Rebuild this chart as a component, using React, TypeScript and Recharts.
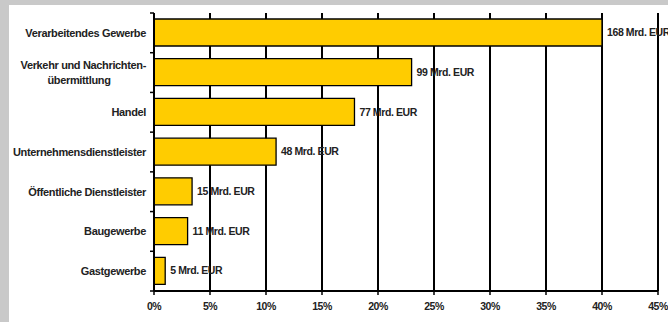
import { BarChart, Bar, XAxis, YAxis, CartesianGrid, LabelList } from "recharts";

const categories = [
  "Verarbeitendes Gewerbe",
  "Verkehr und Nachrichten-\nübermittlung",
  "Handel",
  "Unternehmensdienstleister",
  "Öffentliche Dienstleister",
  "Baugewerbe",
  "Gastgewerbe",
];
const shares = [40, 23, 17.9, 10.9, 3.4, 3.0, 1.0];
const mrdEur = [168, 99, 77, 48, 15, 11, 5];
const xTicks = [0, 5, 10, 15, 20, 25, 30, 35, 40, 45];

const data = categories.map((name, i) => ({ name, share: shares[i], mrd: mrdEur[i] }));

const font = "'Liberation Sans', Arial, sans-serif";
const labelStyle = { fontSize: 11, fontWeight: "bold", fill: "#222", fontFamily: font, letterSpacing: -0.35 } as any;

// category label, with the tick mark on the band boundary like the Excel original
const CategoryTick = (props: any) => {
  const { x, y, payload, index } = props;
  const half = payload.offset ?? 0;
  const axisX = x + 8;
  const lines = String(payload.value).split("\n");
  const last = index === categories.length - 1;
  return (
    <g>
      <line x1={axisX - 4} x2={axisX} y1={y - half} y2={y - half} stroke="#000" strokeWidth={1.5} />
      {last && <line x1={axisX - 4} x2={axisX} y1={y + half} y2={y + half} stroke="#000" strokeWidth={1.5} />}
      {lines.length === 1 ? (
        <text x={x} y={y} dy="0.35em" textAnchor="end" {...labelStyle}>
          {lines[0]}
        </text>
      ) : (
        <g>
          <text x={x} y={y} dy="-0.3em" textAnchor="end" {...labelStyle}>{lines[0]}</text>
          <text x={x - 67} y={y} dy="1em" textAnchor="middle" {...labelStyle}>{lines[1]}</text>
        </g>
      )}
    </g>
  );
};

const ValueLabel = (props: any) => {
  const { x, y, width, height, value } = props;
  return (
    <text x={x + width + 5} y={y + height / 2} dy="0.35em" fontSize={10.5} fontWeight="bold" fill="#222" fontFamily={font} letterSpacing={-0.4}>
      {`${value} Mrd. EUR`}
    </text>
  );
};

export default function App() {
  return (
    <div style={{ position: "absolute", left: 0, top: 0, width: 668, height: 322, background: "#c9c9c9", overflow: "hidden" }}>
      <div style={{ position: "absolute", left: 9, top: 5, width: 659, height: 317, background: "#fff" }}>
        <BarChart
          width={659}
          height={317}
          data={data}
          layout="vertical"
          margin={{ top: 8, right: 10, bottom: 0, left: 0 }}
          barSize={27}
        >
          <CartesianGrid horizontal={false} stroke="#000" strokeWidth={2} />
          <XAxis
            type="number"
            domain={[0, 45]}
            ticks={xTicks}
            tickFormatter={(v) => `${v}%`}
            height={31}
            axisLine={{ stroke: "#000", strokeWidth: 2 }}
            tickLine={{ stroke: "#000", strokeWidth: 1.5 }}
            tickSize={4}
            tickMargin={8}
            tick={{ fontSize: 10.5, fontWeight: "bold", fill: "#222", fontFamily: font, letterSpacing: -0.5 }}
            interval={0}
          />
          <XAxis
            xAxisId="top"
            orientation="top"
            type="number"
            domain={[0, 45]}
            height={0}
            tick={false}
            tickLine={false}
            axisLine={{ stroke: "#000", strokeWidth: 2 }}
          />
          <YAxis
            type="category"
            dataKey="name"
            width={145}
            axisLine={{ stroke: "#000", strokeWidth: 2 }}
            tickLine={false}
            tick={<CategoryTick />}
            tickMargin={2}
            interval={0}
          />
          <Bar dataKey="share" fill="#ffcc00" stroke="#000" strokeWidth={1.3} isAnimationActive={false}>
            <LabelList dataKey="mrd" content={<ValueLabel />} />
          </Bar>
        </BarChart>
      </div>
    </div>
  );
}
